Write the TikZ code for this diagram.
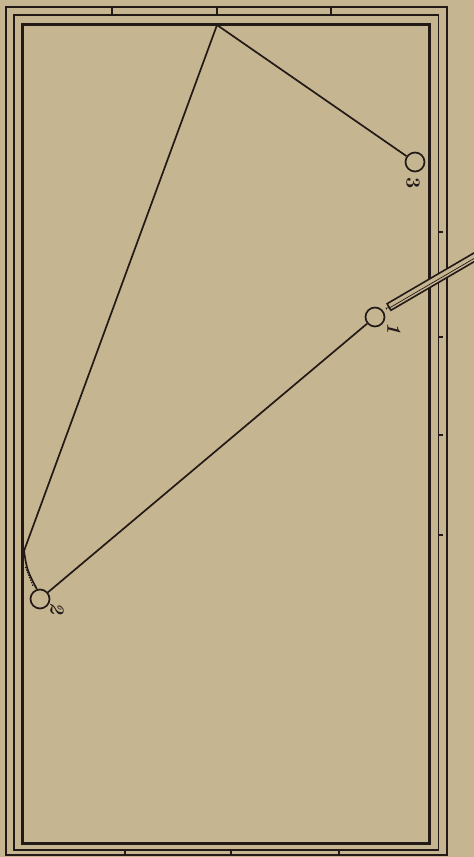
\documentclass[tikz,border=0pt]{standalone}
\usetikzlibrary{calc}
\definecolor{paper}{RGB}{197,181,145}
\definecolor{ink}{RGB}{35,25,22}
\begin{document}
\begin{tikzpicture}[x=1pt,y=-1pt,
  ball/.style={circle,draw=ink,line width=1.7pt,minimum size=19pt,inner sep=0pt},
  num/.style={text=ink,font=\fontsize{20}{20}\selectfont\bfseries,rotate=-90,inner sep=0pt},
  rail/.style={draw=ink,line width=1.5pt},
  cushion/.style={draw=ink,line width=3pt},
  sight/.style={draw=ink,line width=1.4pt},
  shotline/.style={draw=ink,line width=1.7pt},
  cueline/.style={draw=ink,line width=1.6pt,fill=paper}]
\fill[paper] (0,0) rectangle (474,857);
\clip (0,0) rectangle (474,857);
% table frame
\draw[rail,line width=1.7pt] (6,7) rectangle (447,855);
\draw[draw=ink,line width=2.6pt] (447,7) -- (447,855);
\draw[rail] (14,15) rectangle (438.5,850);
\draw[cushion] (22.5,24) rectangle (429.5,843.5);
% sights
\foreach \x in {112,217,331} \draw[sight] (\x,8) -- (\x,15);
\foreach \x in {125,231,339} \draw[sight] (\x,850) -- (\x,855);
\foreach \y in {232,337,435,535} \draw[sight] (439,\y) -- (443,\y);
% balls
\node[ball] (b1) at (375,317) {};
\node[ball] (b2) at (40,599) {};
\node[ball] (b3) at (415,162) {};
\node[num,font=\fontsize{20}{20}\selectfont\bfseries\itshape] (n1) at (394,328) {1};
\node[num,font=\fontsize{20}{20}\selectfont\bfseries\itshape] (n2) at (57,608) {2};
\node[num] (n3) at (413,183) {3};
% path of the ball
\coordinate (apex) at (217,25);
\coordinate (cush) at (24,551);
\coordinate (dotA) at (25.5,567);
\coordinate (dotB) at (33,586);
\draw[shotline] (b3) -- (apex) -- (cush);
\draw[shotline] (b1) -- (b2);
\draw[shotline] (cush) .. controls (27,570) .. (b2.108);
\draw[draw=ink,line width=1.3pt,dash pattern=on 1.2pt off 1.5pt] (dotA) -- (dotB);
% cue
\coordinate (cueA) at (389,307);
\coordinate (cueB) at (490,248);
\draw[cueline] ($(cueA)!3.8pt!90:(cueB)$) -- ($(cueB)!3.8pt!-90:(cueA)$)
   -- ($(cueB)!3.8pt!90:(cueA)$) -- ($(cueA)!3.8pt!-90:(cueB)$) -- cycle;
\draw[draw=ink,line width=0.7pt] ($(cueA)!1pt!-90:(cueB)$) -- ($(cueB)!1pt!90:(cueA)$);
\draw[draw=ink,line width=1.8pt,dash pattern=on 1pt off 1pt] ($(cueA)!-0.5pt!(cueB)$) -- ($(cueA)!-3.5pt!(cueB)$);
\end{tikzpicture}
\end{document}
